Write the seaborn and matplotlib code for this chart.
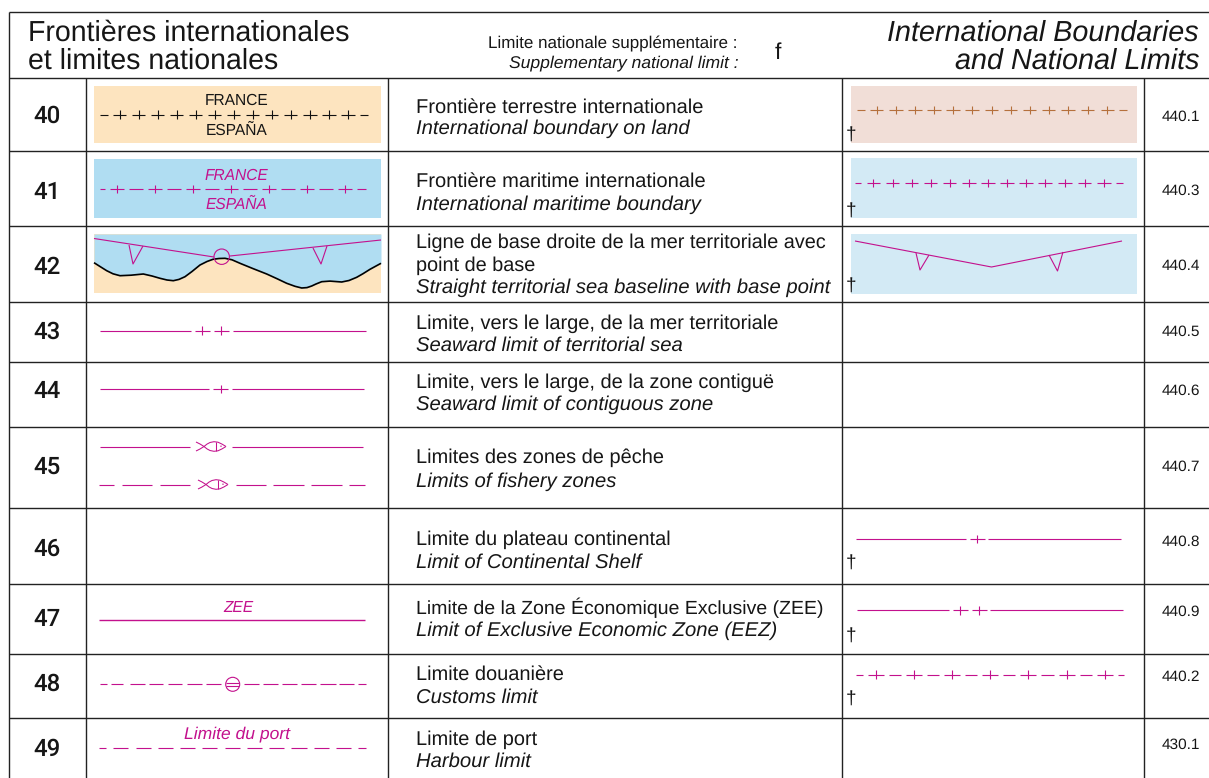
import matplotlib
matplotlib.use("Agg")
import matplotlib.pyplot as plt
import pandas as pd
import seaborn as sns
from matplotlib.patches import Rectangle, Circle

sns.set_theme(style="white")
plt.rcParams['font.family'] = ['Liberation Sans', 'DejaVu Sans']
plt.rcParams['text.hinting'] = 'no_hinting'

W, H = 1209, 778
INK = '#161616'
MAG = '#C3118D'
BROWN = '#B5703C'
LAND = '#FDE4BF'
SEA = '#B0DDF2'
LAND2 = '#F1DED7'
SEA2 = '#D3EAF5'

# table content
row_numbers = ['40', '41', '42', '43', '44', '45', '46', '47', '48', '49']
number_y = [114, 190, 265, 330, 389, 465, 547, 617, 682, 747]
refs = ['440.1', '440.3', '440.4', '440.5', '440.6', '440.7', '440.8', '440.9', '440.2', '430.1']
ref_y = [115.5, 189, 264, 330, 389, 465, 540.7, 610.7, 675.7, 743]
fr_labels = [
    ['Frontière terrestre internationale'],
    ['Frontière maritime internationale'],
    ['Ligne de base droite de la mer territoriale avec', 'point de base'],
    ['Limite, vers le large, de la mer territoriale'],
    ['Limite, vers le large, de la zone contiguë'],
    ['Limites des zones de pêche'],
    ['Limite du plateau continental'],
    ['Limite de la Zone Économique Exclusive (ZEE)'],
    ['Limite douanière'],
    ['Limite de port'],
]
en_labels = [
    'International boundary on land',
    'International maritime boundary',
    'Straight territorial sea baseline with base point',
    'Seaward limit of territorial sea',
    'Seaward limit of contiguous zone',
    'Limits of fishery zones',
    'Limit of Continental Shelf',
    'Limit of Exclusive Economic Zone (EEZ)',
    'Customs limit',
    'Harbour limit',
]
fr_px = [20.1, 20.1, 19.9, 20.0, 20.0, 20.0, 20.0, 19.5, 20.0, 20.0]
fr_baselines = [[112.3], [186.7], [248.3, 270.7], [329], [388], [463], [545], [614], [680], [745]]
en_baselines = [134.3, 210, 293.3, 351, 410, 487, 568, 636, 703, 767]
dagger_y = [134, 210, 285, 562, 635, 698]

# grid
row_lines = [78, 151, 226, 302, 362, 427, 508, 583.5, 654, 718]
col_lines = [86, 388, 842, 1144]

# row 40
r40_cross = [119.5, 138.5, 157.5, 176.5, 195.5, 214.5, 233.5, 252.5, 271.5, 290.5, 310, 329, 348]
r40_ends = [100, 368]
r40b_cross = [876.7, 896, 915, 934, 953, 972, 991.5, 1010.5, 1029.5, 1048.5, 1068, 1087.5, 1107.3]
r40b_ends = [857, 1127]
# row 41
r41_cross = [117, 155, 193, 231, 269, 307, 345]
r41_ends = [100, 366]
r41b_cross = [873.3, 892.5, 911.5, 930.5, 949.5, 969, 988, 1007, 1026, 1045, 1065, 1084.5, 1104]
r41b_ends = [855, 1123]
# row 42
base_x = [94, 214, 230, 381]
base_y = [238.5, 257, 256, 240]
base_tri = [[(129, 245), (133, 264), (143, 246)], [(313, 248), (321, 264), (327, 246)]]
coast_x = [94, 100, 106.7, 113, 120, 131, 143.3, 152, 160, 167, 173.3, 179, 185, 192, 200, 207, 213, 219, 225, 232,
           240, 253, 266.7, 277, 286.7, 295, 301.7, 307, 311.7, 316, 321.7, 330, 341.7, 349, 356.7, 363, 370, 381]
coast_y = [262.7, 266.5, 270.7, 273.8, 275.7, 275.2, 274, 276, 278.3, 280, 280.7, 279.4, 276.7, 271.5, 265, 261.5, 259.3, 258.5,
           258.3, 259.8, 263.3, 268.6, 274, 278.7, 283.3, 286.3, 288, 287.6, 286, 284, 281.7, 281.1, 282, 280.5, 277.3, 273.7, 269.3, 263.3]
baseb_x = [855, 991.5, 1122]
baseb_y = [241, 267, 241]
baseb_tri = [[(916, 253), (920, 270), (929, 255)], [(1049, 255), (1057.5, 271), (1063, 252)]]
# rows 43-44-46-47: line, crosses, line
r43_runs = [(100, 190.7), (232.7, 365.7)]
r43_cross = [202.3, 221.3]
r44_runs = [(99.5, 209), (232, 364)]
r44_cross = [220.5]
r46_runs = [(856, 966), (988, 1121)]
r46_cross = [977]
r47_line = [(99, 365)]
r47b_runs = [(857, 949), (990, 1123)]
r47b_cross = [960.3, 979]
# row 45
r45a_runs = [(100, 190), (232, 363)]
r45b_runs = [(99, 114), (122, 152), (160, 190), (235.5, 266), (273, 304), (311, 342), (349, 365)]
fish_upper = [(0, -4.5), (4, -2.5), (8, 0), (11, 2.4), (14, 4), (18, 4.8), (22, 4.3), (26, 2.4), (30, 0)]
fish_lower = [(0, 4.5), (4, 2.5), (8, 0), (11, -2.4), (14, -4), (18, -4.8), (22, -4.3), (26, -2.4), (30, 0)]
# row 48
r48_runs = [(99.5, 106.5), (110.5, 122.5), (130, 145), (149, 163), (168, 182), (187, 202), (206, 221),
            (244, 259), (263, 278), (282, 297), (301, 316), (320, 336), (339, 354), (358, 366)]
r48b_cross = [875.7, 914, 952.3, 990.3, 1028.3, 1066.7, 1105]
r48b_ends = [856, 1124]
# row 49
r49_runs = [(99, 106), (113.3, 128.3), (135.7, 150.7), (157.7, 173), (180, 195), (202.3, 217.3), (224.7, 239.7),
            (247, 262), (269.3, 284.3), (291.3, 306.7), (313.7, 328.7), (336, 351), (358.3, 366)]


fig = plt.figure(figsize=(W / 100, H / 100), dpi=100)
ax = fig.add_axes([0, 0, 1, 1])
ax.set_xlim(0, W)
ax.set_ylim(H, 0)
ax.axis('off')


def draw(segs, color=MAG, lw=0.8, z=4):
    rows = []
    for i, s in enumerate(segs):
        rows += [{'x': p[0], 'y': p[1], 'seg': i} for p in s]
    df = pd.DataFrame(rows)
    sns.lineplot(data=df, x='x', y='y', units='seg', estimator=None, sort=False,
                 color=color, lw=lw, ax=ax, legend=False, zorder=z, solid_capstyle='butt')


def runs_at(runs, y):
    return [[(a, y), (b, y)] for a, b in runs]


def crosses_at(xs, y, hw=7.5, tick=4.3):
    out = []
    for x in xs:
        out.append([(x - hw, y), (x + hw, y)])
        out.append([(x, y - tick), (x, y + tick)])
    return out


def fill(x0, y0, x1, y1, c):
    ax.add_patch(Rectangle((x0, y0), x1 - x0, y1 - y0, fc=c, ec='none', zorder=1))


def crossed(ends, cross, y, color=MAG, hw=6.6, lw=0.8):
    segs = crosses_at(cross, y, hw=hw)
    first = cross[0] - hw - 5.2
    last = cross[-1] + hw + 5.2
    segs.append([(ends[0], y), (first, y)])
    segs.append([(last, y), (ends[1], y)])
    for a, b in zip(cross[:-1], cross[1:]):
        if b - a > 25:
            segs.append([(a + hw + 5, y), (b - hw - 5, y)])
    draw(segs, color=color, lw=lw)


# fills
fill(94, 86, 381, 143, LAND)
fill(94, 159, 381, 218, SEA)
fill(94, 234, 381, 293, LAND)
ax.fill_between(coast_x, 234, coast_y, color=SEA, lw=0, zorder=1.1)
fill(851, 86, 1137, 143, LAND2)
fill(851, 158, 1137, 218, SEA2)
fill(851, 234, 1137, 294, SEA2)

# grid
grid = [[(9, 12), (W, 12)], [(9, 12), (9, H)]]
grid += [[(9, y), (W, y)] for y in row_lines]
grid += [[(x, 78), (x, H)] for x in col_lines]
draw(grid, color='#222222', lw=1.0, z=3)

# symbols
crossed(r40_ends, r40_cross, 114.5, color='#111111')
crossed(r40b_ends, r40b_cross, 110, color=BROWN)
crossed(r41_ends, r41_cross, 189)
crossed(r41b_ends, r41b_cross, 183)
crossed(r48b_ends, r48b_cross, 674.7, hw=8)

draw([list(zip(coast_x, coast_y))], color='#000000', lw=1.2)
draw([list(zip(base_x[:2], base_y[:2])), list(zip(base_x[2:], base_y[2:]))] + base_tri)
ax.add_patch(Circle((221.7, 256.7), 7.7, fc='none', ec=MAG, lw=0.8, zorder=4))
draw([list(zip(baseb_x, baseb_y))] + baseb_tri)

draw(runs_at(r43_runs, 330.5) + crosses_at(r43_cross, 330.5))
draw(runs_at(r44_runs, 389) + crosses_at(r44_cross, 389))
draw(runs_at(r45a_runs, 446.5))
draw(runs_at(r45b_runs, 484.5))
for x0, y0 in [(196, 446.5), (198, 484.5)]:
    draw([[(x0 + a, y0 + b) for a, b in fish_upper],
          [(x0 + a, y0 + b) for a, b in fish_lower],
          [(x0 + 20, y0 - 4.5), (x0 + 20, y0 + 4.5)]], lw=0.75)
    ax.add_patch(Circle((x0 + 25, y0 - 0.3), 0.7, fc=MAG, ec='none', zorder=4))
draw(runs_at(r46_runs, 539) + crosses_at(r46_cross, 539))
draw(runs_at(r47_line, 620), lw=1.0)
draw(runs_at(r47b_runs, 610.3) + crosses_at(r47b_cross, 610.3))
draw(runs_at(r48_runs, 684))
ax.add_patch(Circle((232.7, 684.3), 7.0, fc='none', ec=MAG, lw=0.8, zorder=4))
draw([[(226, 682.7), (239.4, 682.7)], [(226, 686), (239.4, 686)]])
draw(runs_at(r49_runs, 748))


def T(x, y, s, px, ha='left', italic=False, color=INK, weight='normal', va='baseline', family=None):
    ax.text(x, y, s, fontsize=px * 0.72, ha=ha, va=va, color=color, zorder=6,
            style='italic' if italic else 'normal', weight=weight,
            family=family if family else ['Liberation Sans', 'DejaVu Sans'])


# header
T(28, 41, 'Frontières internationales', 28.5)
T(28, 69, 'et limites nationales', 28.5)
T(1199, 41, 'International Boundaries', 28.7, ha='right', italic=True)
T(1199, 69, 'and National Limits', 28.7, ha='right', italic=True)
T(737, 48.3, 'Limite nationale supplémentaire :', 17.0, ha='right')
T(739, 67.3, 'Supplementary national limit :', 17.5, ha='right', italic=True)
T(778, 59, 'f', 23, ha='center')

# rows
for n, y in zip(row_numbers, number_y):
    T(47, y, n, 24, ha='center', va='center_baseline', weight='medium', family='Roboto')
for r, y in zip(refs, ref_y):
    T(1181, y, r, 15.4, ha='center', va='center_baseline')
for lines, ys, px in zip(fr_labels, fr_baselines, fr_px):
    for s, y in zip(lines, ys):
        T(416, y, s, px)
for s, y in zip(en_labels, en_baselines):
    T(416.5, y, s, 20.3, italic=True)
for y in dagger_y:
    T(851, y, '†', 19, ha='center', va='center_baseline')

# labels on symbols
T(236.5, 105, 'FRANCE', 15.5, ha='center')
T(236.5, 135, 'ESPAÑA', 15.5, ha='center')
T(236.5, 180, 'FRANCE', 15.5, ha='center', italic=True, color=MAG)
T(236.5, 209, 'ESPAÑA', 15.5, ha='center', italic=True, color=MAG)
T(238, 612.5, 'ZEE', 15.5, ha='center', italic=True, color=MAG)
T(237, 738.5, 'Limite du port', 17.5, ha='center', italic=True, color=MAG)

fig.savefig('out.png', dpi=100, facecolor='white')
